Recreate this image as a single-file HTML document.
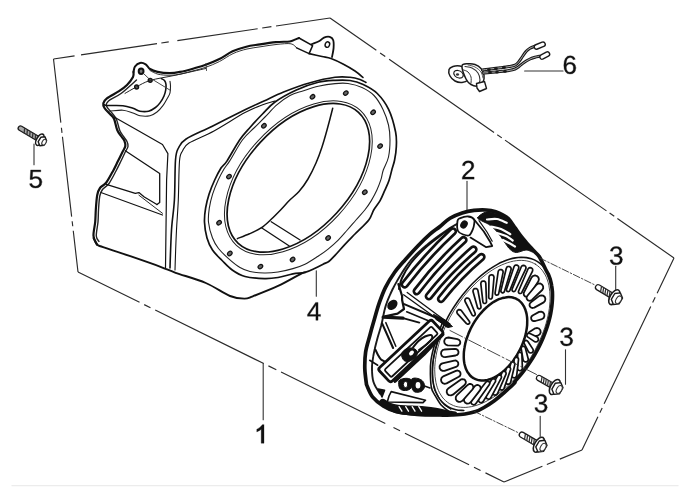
<!DOCTYPE html>
<html><head><meta charset="utf-8"><title>Recoil starter diagram</title>
<style>html,body{margin:0;padding:0;background:#fff;}body{width:700px;height:497px;overflow:hidden;font-family:"Liberation Sans",sans-serif;}svg{display:block;}</style>
</head><body>
<svg width="700" height="497" viewBox="0 0 700 497" stroke-linecap="round" stroke-linejoin="round"><path d="M53.5,59.0 L330.0,18.0" fill="none" stroke="#2a2a2a" stroke-width="1.15" stroke-dasharray="21.3 6.5 76.8 4.4 7.5 8.7 81.2 4.6 9.3 4.7 200" stroke-linecap="butt"/><path d="M330.0,18.0 L674.0,258.0" fill="none" stroke="#2a2a2a" stroke-width="1.15" stroke-dasharray="56.5 4.6 6.3 4.7 127.9 3.9 5.6 3.9 123.7 3.8 5.7 3.8 200" stroke-linecap="butt"/><path d="M674.0,258.0 L582.0,450.0" fill="none" stroke="#2a2a2a" stroke-width="1.15" stroke-dasharray="39 4.5 5.9 4.4 107.9 4.5 5.4 4.4 200" stroke-linecap="butt"/><path d="M582.0,450.0 L504.0,482.0" fill="none" stroke="#2a2a2a" stroke-width="1.15" stroke-dasharray="24 4.9 9.1 4.8 200" stroke-linecap="butt"/><path d="M78.0,272.0 L504.0,482.0" fill="none" stroke="#2a2a2a" stroke-width="1.15" stroke-dasharray="68.6 5.2 7 5.3 121 5.2 8.8 5.3 116.2 9.1 7.3 5.5 71.5 5.5 7.3 5.5 200" stroke-linecap="butt"/><path d="M53.5,59.0 L78.0,272.0" fill="none" stroke="#2a2a2a" stroke-width="1.15" stroke-dasharray="64.1 5.1 5.1 4 80.4 4.6 5.1 4.5 200" stroke-linecap="butt"/><path d="M11.5,485.7 L678.5,485.7" fill="none" stroke="#ececec" stroke-width="1.2" stroke-linecap="butt"/><path d="M133.5,72.0 C133.8,71.1 133.9,68.0 135.0,66.5 C136.1,65.0 138.2,63.3 140.0,62.9 C141.8,62.5 144.0,63.3 145.7,64.3 C147.4,65.3 148.0,67.7 150.0,69.0 C152.0,70.3 154.3,71.2 157.6,71.9 C160.9,72.6 165.9,73.1 169.6,73.1 C173.3,73.1 176.0,72.7 180.0,71.9 C184.0,71.1 189.5,69.6 193.7,68.4 C197.9,67.2 200.9,66.5 205.1,65.0 C209.3,63.5 214.3,61.6 218.9,59.3 C223.5,57.0 228.0,53.4 232.6,51.3 C237.2,49.2 241.7,47.9 246.3,46.7 C250.9,45.6 255.1,45.2 260.0,44.4 C264.9,43.6 271.1,42.6 276.0,42.1 C280.9,41.6 286.6,41.9 289.7,41.5 C292.8,41.1 292.8,40.5 294.3,39.9 C295.9,39.3 298.2,38.3 299.0,38.0" fill="none" stroke="#111" stroke-width="2.1" /><path d="M150.0,70.5 C151.3,71.1 154.7,73.4 158.0,74.2 C161.3,75.0 166.2,75.3 170.0,75.3 C173.8,75.3 177.0,74.8 181.0,74.0 C185.0,73.2 189.8,71.7 194.0,70.6 C198.2,69.5 201.8,68.7 206.0,67.2 C210.2,65.7 215.0,63.8 219.5,61.5 C224.0,59.2 228.4,55.7 233.0,53.6 C237.6,51.5 242.3,50.1 247.0,49.0 C251.7,47.9 256.0,47.5 261.0,46.7 C266.0,45.9 272.0,44.9 277.0,44.4 C282.0,43.9 287.7,43.2 291.0,43.8 C294.3,44.4 295.7,47.2 296.6,47.9" fill="none" stroke="#333" stroke-width="1.0" /><path d="M299.0,38.0 L312.6,45.6 L309.1,53.6 L296.6,47.9" fill="none" stroke="#111" stroke-width="1.5" /><path d="M311.4,44.4 C312.7,43.8 317.3,42.1 319.4,41.0 C321.5,39.9 322.3,38.3 324.0,37.6 C325.7,36.9 328.2,36.5 329.7,36.9 C331.2,37.3 332.5,38.1 333.1,39.9 C333.8,41.7 333.8,45.0 333.6,47.9 C333.4,50.8 332.3,55.5 332.0,57.0" fill="none" stroke="#111" stroke-width="1.8" /><ellipse cx="327.4" cy="44.6" rx="2.2" ry="2.8" transform="rotate(20 327.4 44.6)" fill="none" stroke="#111" stroke-width="1.4"/><path d="M309.1,53.6 C311.2,54.1 318.4,55.7 322.0,56.5 C325.6,57.3 327.5,57.2 331.0,58.5 C334.5,59.8 339.0,61.9 343.0,64.0 C347.0,66.1 351.7,68.8 355.0,71.0 C358.3,73.2 361.7,76.4 363.0,77.5" fill="none" stroke="#111" stroke-width="1.6" /><ellipse cx="141.1" cy="71.2" rx="2.4" ry="2.7" fill="#777" stroke="#111" stroke-width="2.0"/><circle cx="150.2" cy="80.3" r="1.9" fill="#777" stroke="#111" stroke-width="1.5"/><circle cx="136.6" cy="87" r="1.9" fill="#777" stroke="#111" stroke-width="1.5"/><path d="M133.5,72.0 C133.4,72.8 134.1,74.9 133.0,77.1 C131.9,79.3 129.3,82.7 127.0,85.0 C124.7,87.3 122.3,89.0 119.0,91.2 C115.7,93.4 109.5,96.4 106.9,98.4 C104.3,100.4 103.7,101.7 103.3,103.3 C102.9,104.9 103.4,106.2 104.5,108.0 C105.6,109.8 108.4,112.2 110.0,114.0 C111.6,115.8 112.9,116.3 114.1,119.0 C115.3,121.7 116.0,127.2 117.2,130.0 C118.4,132.8 119.8,134.2 121.0,136.0 C122.2,137.8 123.7,139.2 124.4,140.9 C125.1,142.6 125.6,144.5 125.3,146.3 C125.0,148.1 123.8,149.2 122.6,151.7 C121.4,154.1 119.5,158.0 118.0,161.0 C116.5,164.0 115.5,166.3 113.6,169.9 C111.6,173.5 108.6,179.5 106.3,182.5 C104.0,185.5 101.5,185.9 100.0,188.0 C98.5,190.1 97.9,191.5 97.2,195.2 C96.5,198.9 96.1,205.5 95.8,210.0 C95.5,214.5 95.6,217.7 95.2,222.0 C94.8,226.3 93.2,232.2 93.5,236.0 C93.8,239.8 96.4,243.1 97.0,244.5" fill="none" stroke="#111" stroke-width="2.2" /><path d="M136.5,80.0 C133.9,82.2 125.7,90.0 121.0,93.5 C116.3,97.0 110.9,98.9 108.5,101.0 C106.1,103.1 105.9,104.0 106.5,106.0 C107.1,108.0 110.3,110.8 112.0,113.0 C113.7,115.2 115.2,116.6 116.5,119.5 C117.8,122.4 118.6,127.7 119.8,130.5 C121.0,133.3 122.3,134.7 123.5,136.5 C124.7,138.3 126.2,139.8 127.0,141.5 C127.8,143.2 128.3,144.7 128.0,146.5 C127.7,148.3 126.2,149.9 125.0,152.5 C123.8,155.1 122.0,158.9 120.5,162.0 C119.0,165.1 117.9,167.4 116.0,171.0 C114.1,174.6 111.2,180.4 109.0,183.5 C106.8,186.6 104.0,187.4 102.5,189.5 C101.0,191.6 100.5,192.6 99.8,196.0 C99.1,199.4 98.8,205.7 98.5,210.0 C98.2,214.3 98.4,217.7 98.0,222.0 C97.6,226.3 96.1,232.8 96.3,236.0 C96.5,239.2 98.5,240.6 99.0,241.5" fill="none" stroke="#222" stroke-width="1.4" /><path d="M104.0,104.5 C104.5,104.7 103.9,105.3 107.1,105.5 C110.2,105.7 118.6,105.2 122.9,105.7 C127.2,106.2 130.2,107.4 133.0,108.3 C135.8,109.2 137.4,110.7 140.0,111.2 C142.6,111.7 146.0,111.8 148.6,111.2 C151.2,110.6 153.6,108.9 155.5,107.5 C157.4,106.1 158.6,104.8 160.0,102.9 C161.4,101.0 163.1,98.2 164.0,96.0 C164.9,93.8 165.4,91.9 165.7,90.0 C166.0,88.1 166.2,86.1 166.0,84.5 C165.8,82.9 165.3,81.5 164.5,80.5 C163.7,79.5 161.9,78.9 161.4,78.6" fill="none" stroke="#111" stroke-width="1.6" /><path d="M106.0,110.0 C106.4,110.2 105.8,111.2 108.6,111.2 C111.4,111.2 118.8,109.9 122.9,110.2 C127.0,110.5 130.2,112.1 133.0,113.0 C135.8,113.9 137.2,115.2 140.0,115.7 C142.8,116.2 147.2,116.3 150.0,115.7 C152.8,115.1 154.8,113.7 157.0,112.0 C159.2,110.3 161.2,108.0 162.9,105.7 C164.7,103.4 166.3,100.1 167.5,98.0 C168.7,95.9 169.5,94.9 170.0,92.9 C170.5,90.9 170.5,87.9 170.5,86.0 C170.5,84.1 170.1,82.2 170.0,81.4" fill="none" stroke="#222" stroke-width="1.1" /><path d="M125.0,93.4 C126.9,92.3 132.1,89.2 136.3,87.0 C140.5,84.8 143.6,82.5 150.0,80.5 C156.4,78.5 165.7,77.3 175.0,75.3 C184.3,73.3 200.7,69.6 205.8,68.5" fill="none" stroke="#222" stroke-width="1.0" /><path d="M151.6,78.9 L170.1,90.2" fill="none" stroke="#333" stroke-width="0.9" /><path d="M206.0,63.5 L206.5,70.5" fill="none" stroke="#333" stroke-width="0.9" /><path d="M114.1,117.0 L137.1,130.0 L162.5,144.5 L167.9,153.6 L166.6,180.0 L165.5,268.0" fill="none" stroke="#111" stroke-width="1.2" /><path d="M125.3,150.8 L159.7,173.5 L159.7,202.5 L157.0,204.5" fill="none" stroke="#111" stroke-width="1.3" /><path d="M106.3,184.3 L135.3,193.4 L138.9,192.6 L144.3,197.0 L157.0,204.5" fill="none" stroke="#111" stroke-width="1.3" /><path d="M100.9,192.5 L162.5,215.1" fill="none" stroke="#111" stroke-width="1.1" /><path d="M138.9,195.2 L162.5,213.3" fill="none" stroke="#111" stroke-width="0.9" /><path d="M170.0,268.0 C170.2,261.7 170.8,241.3 171.5,230.0 C172.2,218.7 173.7,211.7 174.4,200.0 C175.1,188.3 174.8,168.7 175.5,160.0 C176.2,151.3 176.7,151.5 178.5,148.0 C180.3,144.5 180.5,142.6 186.1,139.0 C191.7,135.4 202.5,131.1 212.3,126.2 C222.1,121.3 236.4,114.0 245.0,109.8 C253.6,105.6 257.6,104.0 264.0,101.0 C270.4,98.0 276.1,94.9 283.6,91.9 C291.2,88.9 300.7,85.3 309.3,82.9 C317.9,80.5 328.2,78.2 335.0,77.3 C341.8,76.4 345.8,76.9 350.0,77.3 C354.2,77.7 357.3,78.6 360.0,79.5 C362.7,80.4 365.0,82.0 366.0,82.5" fill="none" stroke="#111" stroke-width="1.6" /><path d="M175.0,270.0 C175.2,263.3 175.9,241.7 176.5,230.0 C177.1,218.3 177.8,211.5 178.3,200.0 C178.8,188.5 178.8,169.2 179.5,161.0 C180.2,152.8 180.9,154.0 182.5,151.0 C184.1,148.0 183.8,146.3 189.0,143.0 C194.2,139.7 204.7,136.1 214.0,131.0 C223.3,125.9 237.0,116.9 245.0,112.6 C253.0,108.3 257.0,106.9 262.0,105.0 C267.0,103.1 272.8,101.7 275.0,101.0" fill="none" stroke="#111" stroke-width="1.1" /><path d="M275.0,102.0 C280.6,98.0 289.2,93.3 296.4,90.0 C303.6,86.7 311.8,83.9 318.2,82.3 C324.6,80.7 329.7,80.6 335.0,80.3 C340.3,80.0 345.3,79.8 350.0,80.5 C354.7,81.2 358.6,82.3 363.2,84.5 C367.8,86.7 373.1,89.3 377.3,93.5 C381.5,97.7 385.6,103.0 388.6,109.4 C391.7,115.8 394.3,125.7 395.6,132.0 C396.9,138.3 396.5,142.3 396.3,147.0 C396.1,151.7 395.4,156.2 394.6,160.0 C393.9,163.8 392.7,166.6 391.8,170.0 C390.9,173.4 390.1,177.2 389.0,180.5 C387.9,183.8 386.4,186.8 384.9,190.1 C383.4,193.4 382.0,197.3 380.1,200.6 C378.2,203.9 375.6,206.8 373.7,210.0 C371.8,213.2 371.9,215.9 368.8,219.9 C365.7,223.9 358.9,230.0 355.0,234.0 C351.1,238.0 348.5,240.6 345.2,244.1 C341.9,247.6 337.9,252.3 335.2,255.2 C332.5,258.1 331.1,259.7 329.1,261.2 C327.1,262.7 325.4,263.0 323.1,264.2 C320.8,265.4 318.1,266.8 315.1,268.2 C312.1,269.6 308.7,271.4 305.0,272.3 C301.3,273.2 297.4,272.9 292.9,273.8 C288.4,274.7 282.8,276.7 278.0,277.5 C273.2,278.3 269.8,278.8 264.3,278.6 C258.8,278.4 250.3,277.9 245.0,276.5 C239.7,275.1 236.0,272.7 232.2,270.0 C228.4,267.3 225.4,263.8 222.1,260.5 C218.8,257.2 215.0,253.8 212.5,250.0 C210.0,246.2 208.3,242.6 207.0,238.0 C205.7,233.4 204.7,227.3 204.5,222.3 C204.3,217.3 204.8,212.9 205.6,208.2 C206.4,203.5 207.6,198.8 209.1,194.1 C210.6,189.4 212.7,184.3 214.7,180.0 C216.7,175.7 219.0,171.2 221.0,168.0 C223.0,164.8 223.8,165.8 226.9,161.1 C230.0,156.4 235.8,145.6 239.6,140.0 C243.4,134.4 246.2,131.8 250.0,127.5 C253.8,123.2 258.3,118.2 262.5,114.0 C266.7,109.8 269.4,106.0 275.0,102.0Z" fill="none" stroke="#111" stroke-width="1.7" /><path d="M290.0,95.5 C294.3,93.2 298.1,92.5 302.8,91.0 C307.5,89.5 312.8,87.5 318.2,86.3 C323.6,85.1 330.0,84.1 335.0,83.6 C340.0,83.1 343.5,82.8 348.0,83.5 C352.5,84.2 357.7,85.5 362.0,87.5 C366.3,89.5 370.5,91.8 374.0,95.5 C377.5,99.2 380.6,104.5 383.0,109.4 C385.4,114.3 387.3,119.9 388.5,125.0 C389.7,130.1 390.0,134.7 390.0,140.0 C390.0,145.3 389.6,152.0 388.5,157.0 C387.4,162.0 384.6,166.2 383.3,170.0 C382.0,173.8 382.0,176.3 380.9,179.7 C379.8,183.0 378.5,186.6 376.9,190.1 C375.3,193.6 373.3,197.3 371.3,200.6 C369.3,203.9 367.4,206.8 364.8,210.0 C362.2,213.2 358.9,216.7 356.0,220.0 C353.1,223.3 350.3,226.7 347.3,230.0 C344.3,233.3 341.4,236.9 338.2,240.1 C335.0,243.3 331.5,246.4 328.1,249.1 C324.8,251.8 322.0,253.7 318.1,256.2 C314.2,258.7 309.2,262.1 305.0,264.2 C300.8,266.3 297.4,267.3 292.9,268.6 C288.4,269.9 282.8,271.3 278.0,272.0 C273.2,272.7 269.0,273.1 264.3,273.0 C259.6,272.9 254.1,272.4 250.0,271.5 C245.9,270.6 243.6,269.6 240.0,267.5 C236.4,265.4 232.1,261.8 228.5,258.6 C224.9,255.4 221.2,251.9 218.5,248.5 C215.8,245.1 214.2,242.4 212.5,238.0 C210.8,233.6 209.0,227.3 208.5,222.3 C208.0,217.3 208.6,212.9 209.3,208.2 C210.0,203.5 211.1,198.8 212.6,194.1 C214.1,189.4 216.3,184.2 218.2,180.0 C220.1,175.8 222.1,172.2 224.0,169.0 C225.9,165.8 226.5,165.9 229.6,161.1 C232.7,156.3 238.3,145.5 242.4,140.0 C246.5,134.5 250.2,131.8 254.0,128.0 C257.8,124.2 261.1,120.9 265.0,117.0 C268.9,113.1 272.9,108.3 277.1,104.7 C281.3,101.1 285.7,97.8 290.0,95.5Z" fill="none" stroke="#222" stroke-width="1.1" /><path d="M93.5,238.0 C94.1,239.1 95.4,243.0 97.0,244.5 C98.6,246.0 97.5,245.2 103.1,247.2 C108.6,249.1 120.7,252.9 130.3,256.2 C139.9,259.5 152.9,264.0 160.5,266.8 C168.1,269.6 168.0,270.1 175.6,272.8 C183.2,275.5 196.7,279.1 205.8,283.0 C214.9,286.9 223.6,293.4 230.0,296.0 C236.4,298.6 240.5,298.6 244.3,298.6 C248.1,298.7 247.2,298.5 252.9,296.3 C258.6,294.1 270.8,289.4 278.6,285.7 C286.5,282.0 295.6,276.5 300.0,274.3 C304.4,272.1 304.2,272.6 305.0,272.3" fill="none" stroke="#111" stroke-width="1.9" /><ellipse cx="298.35" cy="177.8" rx="88.9" ry="52.0" transform="rotate(-47.43 298.35 177.8)" fill="none" stroke="#111" stroke-width="1.7"/><ellipse cx="298.35" cy="177.8" rx="91.6" ry="54.7" transform="rotate(-47.43 298.35 177.8)" fill="none" stroke="#222" stroke-width="1.0"/><path d="M332.7,108.2 C331.8,111.8 328.8,123.5 327.0,130.0 C325.2,136.5 323.8,141.5 322.0,147.0 C320.2,152.5 318.3,157.7 316.0,163.0 C313.7,168.3 310.8,174.2 308.0,179.0 C305.2,183.8 302.1,187.9 299.0,191.5 C295.9,195.1 292.3,197.5 289.3,200.5 C286.3,203.5 283.8,206.6 280.8,209.7 C277.8,212.8 274.4,216.3 271.2,219.3 C268.0,222.3 265.1,225.3 261.5,227.7 C257.9,230.1 253.5,232.0 249.5,233.8 C245.5,235.6 239.4,237.8 237.4,238.6" fill="none" stroke="#111" stroke-width="1.5" /><path d="M261.5,227.7 L289.3,246.0" fill="none" stroke="#111" stroke-width="1.3" /><path d="M271.2,221.7 L300.1,240.0" fill="none" stroke="#111" stroke-width="1.3" /><ellipse cx="263.9" cy="125.8" rx="2.5" ry="1.9" transform="rotate(-40 263.9 125.8)" fill="#666" stroke="#111" stroke-width="1.2"/><ellipse cx="312.5" cy="96.8" rx="2.5" ry="1.9" transform="rotate(-40 312.5 96.8)" fill="#666" stroke="#111" stroke-width="1.2"/><ellipse cx="345.8" cy="93.1" rx="2.5" ry="1.9" transform="rotate(-40 345.8 93.1)" fill="#666" stroke="#111" stroke-width="1.2"/><ellipse cx="373.1" cy="112.3" rx="2.5" ry="1.9" transform="rotate(-40 373.1 112.3)" fill="#666" stroke="#111" stroke-width="1.2"/><ellipse cx="380.1" cy="146.1" rx="2.5" ry="1.9" transform="rotate(-40 380.1 146.1)" fill="#666" stroke="#111" stroke-width="1.2"/><ellipse cx="364.8" cy="192.2" rx="2.5" ry="1.9" transform="rotate(-40 364.8 192.2)" fill="#666" stroke="#111" stroke-width="1.2"/><ellipse cx="328.1" cy="238.0" rx="2.5" ry="1.9" transform="rotate(-40 328.1 238.0)" fill="#666" stroke="#111" stroke-width="1.2"/><ellipse cx="292.6" cy="259.5" rx="2.5" ry="1.9" transform="rotate(-40 292.6 259.5)" fill="#666" stroke="#111" stroke-width="1.2"/><ellipse cx="260.4" cy="266.6" rx="2.5" ry="1.9" transform="rotate(-40 260.4 266.6)" fill="#666" stroke="#111" stroke-width="1.2"/><ellipse cx="229.8" cy="253.5" rx="2.5" ry="1.9" transform="rotate(-40 229.8 253.5)" fill="#666" stroke="#111" stroke-width="1.2"/><ellipse cx="219.1" cy="222.7" rx="2.5" ry="1.9" transform="rotate(-40 219.1 222.7)" fill="#666" stroke="#111" stroke-width="1.2"/><ellipse cx="229.0" cy="176.6" rx="2.5" ry="1.9" transform="rotate(-40 229.0 176.6)" fill="#666" stroke="#111" stroke-width="1.2"/><path d="M143.5,73.5 L150.0,79.7" fill="none" stroke="#333" stroke-width="0.9" /><path d="M366.5,384.5 C366.2,381.8 364.9,373.8 364.8,368.4 C364.7,363.0 364.8,357.7 365.6,352.3 C366.4,346.9 368.2,341.6 369.7,336.1 C371.1,330.6 372.7,324.9 374.3,319.5 C375.9,314.1 377.2,308.8 379.1,303.4 C381.0,298.0 382.9,292.4 385.5,287.3 C388.1,282.2 391.2,277.1 394.5,272.5 C397.8,267.9 401.0,264.5 405.0,260.0 C409.0,255.5 414.1,249.8 418.3,245.5 C422.5,241.2 426.4,237.4 430.0,234.2 C433.6,231.0 436.7,229.2 440.0,226.5 C443.3,223.8 446.3,220.6 450.0,218.3 C453.7,216.1 458.1,214.3 462.1,213.0 C466.1,211.7 470.1,210.9 474.1,210.4 C478.1,209.9 482.6,209.8 486.2,210.0 C489.8,210.2 493.0,210.9 495.8,211.8 C498.6,212.7 500.9,213.9 503.1,215.2 C505.3,216.5 507.1,217.4 509.1,219.5 C511.1,221.6 513.1,225.1 515.1,227.9 C517.1,230.7 519.2,233.8 521.2,236.4 C523.2,239.0 525.2,241.2 527.2,243.6 C529.2,245.9 531.5,248.3 533.5,250.5 C535.5,252.7 537.5,253.8 539.5,257.0 C541.5,260.2 544.2,266.7 545.7,269.5 C547.1,272.4 547.5,272.6 548.3,274.2 C549.0,275.9 549.7,277.7 550.3,279.6 C550.8,281.5 551.3,283.4 551.6,285.5 C552.0,287.6 552.2,289.8 552.4,292.0 C552.5,294.2 552.5,296.5 552.4,298.9 C552.3,301.3 552.1,303.7 551.8,306.2 C551.5,308.7 551.1,311.3 550.6,313.8 C550.1,316.4 549.4,319.1 548.7,321.7 C548.0,324.3 547.1,327.0 546.2,329.7 C545.3,332.3 544.2,335.0 543.1,337.7 C542.0,340.3 540.8,343.0 539.5,345.6 C538.2,348.3 536.8,350.9 535.3,353.5 C533.8,356.1 532.3,358.6 530.7,361.1 C529.1,363.6 527.4,366.1 525.6,368.5 C523.9,370.8 522.1,373.2 520.2,375.4 C518.3,377.7 515.4,380.7 514.5,381.9 C513.5,383.2 516.2,381.2 514.5,383.0 C512.8,384.8 507.6,389.5 504.2,392.5 C500.8,395.5 497.4,398.5 494.0,401.0 C490.6,403.5 487.1,405.7 484.0,407.5 C480.9,409.3 478.9,410.5 475.7,411.6 C472.5,412.7 468.9,413.4 465.0,414.0 C461.1,414.6 456.2,414.8 452.0,415.0 C447.8,415.2 445.8,415.1 440.0,415.0 C434.2,414.9 424.4,414.9 417.1,414.3 C409.8,413.7 401.8,412.9 396.2,411.5 C390.6,410.1 387.6,408.6 383.6,406.1 C379.7,403.7 375.4,400.4 372.5,396.8 C369.6,393.2 367.5,386.6 366.5,384.5" fill="none" stroke="#111" stroke-width="3.7" /><path d="M379.9,393.4 C378.8,391.5 374.8,386.2 373.5,382.0 C372.2,377.8 372.0,372.5 372.0,368.0 C372.0,363.5 372.7,359.7 373.5,355.0 C374.3,350.3 375.7,345.1 377.0,340.0 C378.3,334.9 380.1,329.9 381.5,324.3 C382.9,318.7 383.8,312.2 385.5,306.6 C387.2,301.0 389.6,295.6 392.0,290.5 C394.4,285.4 397.1,280.9 400.0,276.1 C402.9,271.3 406.3,265.9 409.7,261.6 C413.1,257.3 416.6,254.1 420.5,250.5 C424.4,246.9 428.6,243.4 433.0,240.0 C437.4,236.6 442.5,232.9 447.0,230.0 C451.5,227.1 455.8,224.5 460.0,222.5 C464.2,220.5 470.0,218.8 472.0,218.0" fill="none" stroke="#1a1a1a" stroke-width="1.9" stroke-dasharray="7 0.9"/><path d="M383.0,399.5 C384.7,399.6 387.5,402.5 390.0,403.5 C392.5,404.5 394.7,405.1 398.0,405.5 C401.3,405.9 405.7,405.9 410.0,406.2 C414.3,406.4 419.7,406.6 424.0,407.0 C428.3,407.4 432.2,407.8 436.0,408.5 C439.8,409.2 443.7,410.2 447.0,411.0 C450.3,411.8 457.2,412.2 456.0,413.0 C454.8,413.8 446.5,415.2 440.0,415.5 C433.5,415.8 423.8,415.3 417.1,415.0 C410.4,414.7 404.9,414.5 400.0,413.5 C395.1,412.5 391.3,410.8 388.0,409.0 C384.7,407.2 380.8,404.6 380.0,403.0 C379.2,401.4 381.3,399.4 383.0,399.5Z" fill="#111" stroke="#111" stroke-width="1.5" /><path d="M399.1,406.6 L401.9,411.2" fill="none" stroke="#fff" stroke-width="1.3" /><path d="M405.7,406.6 L408.5,411.2" fill="none" stroke="#fff" stroke-width="1.3" /><path d="M412.2,406.6 L415.0,411.2" fill="none" stroke="#fff" stroke-width="1.3" /><path d="M418.8,406.6 L421.6,411.2" fill="none" stroke="#fff" stroke-width="1.3" /><path d="M391.2,391.6 L425.5,400.2 L423.0,402.6 L387.3,402.0 L389.0,396.0Z" fill="#fff" stroke="#111" stroke-width="1.6" /><path d="M378.1,389.0 L384.6,390.3 L382.0,397.0Z" fill="#111" stroke="#111" stroke-width="1.5" /><path d="M463.8,410.5 C462.9,410.4 460.2,410.4 458.4,410.2 C456.7,410.0 455.0,409.6 453.4,409.1 C451.8,408.6 450.3,408.0 448.9,407.2 C447.4,406.4 446.1,405.5 444.8,404.5 C443.5,403.5 442.3,402.3 441.2,401.0 C440.1,399.7 439.1,398.3 438.2,396.8 C437.3,395.3 436.5,393.6 435.8,391.9 C435.1,390.1 434.5,388.3 434.0,386.3 C433.5,384.4 433.1,382.3 432.8,380.2 C432.6,378.1 432.4,375.8 432.3,373.5 C432.3,371.3 432.3,368.9 432.5,366.5 C432.7,364.1 432.9,361.6 433.3,359.1 C433.7,356.5 434.2,354.0 434.8,351.4 C435.4,348.8 436.1,346.1 436.9,343.5 C437.7,340.8 438.6,338.1 439.6,335.5 C440.6,332.8 441.7,330.1 442.8,327.5 C444.0,324.8 445.3,322.1 446.7,319.5 C448.0,316.9 449.5,314.3 451.0,311.7 C452.5,309.2 454.1,306.6 455.8,304.2 C457.4,301.7 459.2,299.3 461.0,297.0 C462.7,294.6 464.6,292.4 466.5,290.2 C468.4,288.0 470.3,285.8 472.3,283.8 C474.3,281.8 476.3,279.9 478.3,278.0 C480.3,276.2 482.4,274.5 484.5,272.9 C486.6,271.3 488.7,269.7 490.8,268.4 C492.9,267.0 495.0,265.7 497.0,264.6 C499.1,263.4 501.2,262.4 503.3,261.6 C505.3,260.7 507.4,259.9 509.4,259.3 C511.4,258.7 513.4,258.2 515.3,257.9 C517.3,257.6 519.2,257.4 521.0,257.3 C522.8,257.3 524.6,257.4 526.4,257.6 C528.1,257.8 529.8,258.2 531.4,258.7 C533.0,259.2 534.5,259.8 535.9,260.6 C537.4,261.4 538.7,262.3 540.0,263.3 C541.3,264.3 543.0,266.2 543.6,266.8" fill="none" stroke="#111" stroke-width="1.6" /><path d="M535.6,264.3 C536.9,265.1 538.1,266.1 539.3,267.2 C540.5,268.2 541.6,269.4 542.6,270.8 C543.6,272.1 544.5,273.5 545.3,275.0 C546.1,276.6 546.8,278.2 547.4,280.0 C548.0,281.7 548.5,283.6 548.9,285.5 C549.3,287.4 549.6,289.4 549.8,291.5 C550.0,293.6 550.1,295.8 550.1,298.1 C550.1,300.3 549.9,302.6 549.7,305.0 C549.5,307.3 549.2,309.7 548.7,312.2 C548.3,314.6 547.8,317.1 547.1,319.6 C546.5,322.2 545.7,324.7 544.9,327.3 C544.1,329.8 543.1,332.4 542.1,335.0 C541.1,337.5 540.0,340.1 538.8,342.6 C537.6,345.2 536.3,347.7 535.0,350.2 C533.6,352.7 532.2,355.2 530.7,357.6 C529.2,360.1 527.6,362.4 525.9,364.8 C524.3,367.1 522.6,369.4 520.9,371.6 C519.1,373.8 517.3,375.9 515.5,378.0 C513.6,380.0 511.7,382.0 509.8,383.9 C507.9,385.8 505.9,387.6 504.0,389.2 C502.0,390.9 500.0,392.5 498.0,394.0 C496.0,395.5 494.0,396.9 492.0,398.1 C490.0,399.3 487.9,400.5 485.9,401.5 C483.9,402.5 481.9,403.4 480.0,404.1 C478.0,404.9 476.1,405.5 474.2,406.0 C472.3,406.5 470.4,406.9 468.5,407.1 C466.7,407.4 464.9,407.5 463.2,407.4 C461.5,407.4 459.8,407.2 458.1,406.9 C456.5,406.6 455.0,406.2 453.5,405.6 C452.0,405.0 450.6,404.3 449.2,403.5 C447.9,402.7 446.7,401.7 445.5,400.6 C444.3,399.6 443.2,398.4 442.2,397.0 C441.2,395.7 440.3,394.3 439.5,392.8 C438.7,391.2 438.0,389.6 437.4,387.8 C436.8,386.1 436.3,384.2 435.9,382.3 C435.5,380.4 435.2,378.4 435.0,376.3 C434.8,374.2 434.7,372.0 434.7,369.7 C434.7,367.5 434.9,365.2 435.1,362.8 C435.3,360.5 435.6,358.1 436.1,355.6 C436.5,353.2 437.0,350.7 437.7,348.2 C438.3,345.6 439.1,343.1 439.9,340.5 C440.7,338.0 441.7,335.4 442.7,332.8 C443.7,330.3 444.8,327.7 446.0,325.2 C447.2,322.6 448.5,320.1 449.8,317.6 C451.2,315.1 452.6,312.6 454.1,310.2 C455.6,307.7 457.2,305.4 458.9,303.0 C460.5,300.7 462.2,298.4 463.9,296.2 C465.7,294.0 467.5,291.9 469.3,289.8 C471.2,287.8 473.1,285.8 475.0,283.9 C476.9,282.0 478.9,280.2 480.8,278.6 C482.8,276.9 484.8,275.3 486.8,273.8 C488.8,272.3 490.8,270.9 492.8,269.7 C494.8,268.5 496.9,267.3 498.9,266.3 C500.9,265.3 502.9,264.4 504.8,263.7 C506.8,262.9 508.7,262.3 510.6,261.8 C512.5,261.3 514.4,260.9 516.3,260.7 C518.1,260.4 519.9,260.3 521.6,260.4 C523.3,260.4 525.0,260.6 526.7,260.9 C528.3,261.2 529.8,261.6 531.3,262.2 C532.8,262.8 534.2,263.5 535.6,264.3Z" fill="none" stroke="#333" stroke-width="0.9" /><path d="M516.8,299.1 C517.6,299.5 518.4,300.0 519.2,300.6 C519.9,301.2 520.6,301.8 521.2,302.5 C521.9,303.3 522.5,304.1 523.0,304.9 C523.6,305.7 524.1,306.7 524.5,307.6 C525.0,308.6 525.4,309.6 525.7,310.7 C526.1,311.8 526.3,312.9 526.6,314.1 C526.8,315.2 527.0,316.5 527.1,317.7 C527.2,319.0 527.3,320.3 527.2,321.6 C527.2,322.9 527.2,324.3 527.1,325.6 C526.9,327.0 526.8,328.4 526.5,329.9 C526.3,331.3 526.0,332.7 525.7,334.2 C525.3,335.6 524.9,337.1 524.5,338.5 C524.0,340.0 523.5,341.4 522.9,342.9 C522.4,344.3 521.8,345.8 521.1,347.2 C520.5,348.6 519.8,350.0 519.0,351.4 C518.3,352.8 517.5,354.2 516.7,355.5 C515.8,356.8 515.0,358.1 514.1,359.4 C513.2,360.7 512.3,361.9 511.3,363.1 C510.3,364.3 509.3,365.4 508.3,366.5 C507.3,367.6 506.3,368.6 505.2,369.6 C504.2,370.6 503.1,371.5 502.0,372.4 C500.9,373.2 499.8,374.0 498.7,374.8 C497.6,375.5 496.5,376.2 495.4,376.8 C494.3,377.4 493.2,377.9 492.1,378.4 C491.0,378.8 489.9,379.2 488.8,379.5 C487.7,379.8 486.7,380.1 485.6,380.2 C484.6,380.4 483.5,380.5 482.5,380.5 C481.5,380.5 480.5,380.4 479.5,380.3 C478.6,380.2 477.7,379.9 476.8,379.6 C475.9,379.4 475.0,379.0 474.2,378.5 C473.4,378.1 472.6,377.6 471.8,377.0 C471.1,376.4 470.4,375.8 469.8,375.1 C469.1,374.3 468.5,373.5 468.0,372.7 C467.4,371.9 466.9,370.9 466.5,370.0 C466.0,369.0 465.6,368.0 465.3,366.9 C464.9,365.8 464.7,364.7 464.4,363.5 C464.2,362.4 464.0,361.1 463.9,359.9 C463.8,358.6 463.7,357.3 463.8,356.0 C463.8,354.7 463.8,353.3 463.9,352.0 C464.1,350.6 464.2,349.2 464.5,347.7 C464.7,346.3 465.0,344.9 465.3,343.4 C465.7,342.0 466.1,340.5 466.5,339.1 C467.0,337.6 467.5,336.2 468.1,334.7 C468.6,333.3 469.2,331.8 469.9,330.4 C470.5,329.0 471.2,327.6 472.0,326.2 C472.7,324.8 473.5,323.4 474.3,322.1 C475.2,320.8 476.0,319.5 476.9,318.2 C477.8,316.9 478.7,315.7 479.7,314.5 C480.7,313.3 481.7,312.2 482.7,311.1 C483.7,310.0 484.7,309.0 485.8,308.0 C486.8,307.0 487.9,306.1 489.0,305.2 C490.1,304.4 491.2,303.6 492.3,302.8 C493.4,302.1 494.5,301.4 495.6,300.8 C496.7,300.2 497.8,299.7 498.9,299.2 C500.0,298.8 501.1,298.4 502.2,298.1 C503.3,297.8 504.3,297.5 505.4,297.4 C506.4,297.2 507.5,297.1 508.5,297.1 C509.5,297.1 510.5,297.2 511.5,297.3 C512.4,297.4 513.3,297.7 514.2,298.0 C515.1,298.2 516.0,298.6 516.8,299.1Z" fill="none" stroke="#111" stroke-width="2.5" /><path d="M469.3,321.3 L469.7,322.2 L469.6,323.1 L469.1,323.8 L468.2,324.2 L467.3,324.1 L466.5,323.6 L457.4,313.7 L456.9,312.5 L457.0,311.2 L457.7,310.2 L458.9,309.6 L460.2,309.8 L461.3,310.5Z" fill="#fff" stroke="#111" stroke-width="1.7" /><path d="M475.1,313.2 L475.3,314.1 L475.0,315.0 L474.3,315.6 L473.3,315.8 L472.5,315.4 L471.9,314.7 L465.1,301.5 L464.8,300.3 L465.3,299.1 L466.3,298.2 L467.6,298.0 L468.8,298.5 L469.6,299.5Z" fill="#fff" stroke="#111" stroke-width="1.7" /><path d="M481.0,306.7 L480.9,307.6 L480.5,308.4 L479.6,308.8 L478.7,308.8 L477.9,308.3 L477.5,307.5 L473.0,291.5 L473.1,290.2 L473.8,289.1 L474.9,288.5 L476.2,288.6 L477.3,289.2 L477.9,290.4Z" fill="#fff" stroke="#111" stroke-width="1.7" /><path d="M486.5,301.6 L486.4,302.5 L485.7,303.2 L484.9,303.5 L484.0,303.3 L483.2,302.7 L482.9,301.8 L480.8,283.6 L481.1,282.4 L481.9,281.4 L483.2,281.0 L484.4,281.2 L485.4,282.0 L485.8,283.3Z" fill="#fff" stroke="#111" stroke-width="1.7" /><path d="M492.3,297.3 L492.0,298.2 L491.3,298.8 L490.4,299.0 L489.5,298.7 L488.8,298.0 L488.7,297.1 L489.0,277.1 L489.4,275.8 L490.4,275.0 L491.6,274.7 L492.9,275.1 L493.7,276.1 L494.0,277.3Z" fill="#fff" stroke="#111" stroke-width="1.7" /><path d="M498.7,293.7 L498.3,294.5 L497.5,295.0 L496.6,295.1 L495.7,294.7 L495.2,294.0 L495.1,293.0 L498.2,271.5 L498.7,270.4 L499.8,269.6 L501.1,269.5 L502.2,270.1 L503.0,271.1 L503.1,272.4Z" fill="#fff" stroke="#111" stroke-width="1.7" /><path d="M504.4,291.5 L503.9,292.3 L503.1,292.8 L502.2,292.8 L501.4,292.3 L500.9,291.5 L500.9,290.5 L506.3,268.3 L506.9,267.1 L508.1,266.5 L509.3,266.5 L510.5,267.2 L511.1,268.3 L511.1,269.6Z" fill="#fff" stroke="#111" stroke-width="1.7" /><path d="M509.9,290.4 L509.3,291.2 L508.5,291.6 L507.5,291.5 L506.8,291.0 L506.4,290.1 L506.5,289.2 L514.0,266.7 L514.8,265.6 L515.9,265.1 L517.2,265.2 L518.3,265.9 L518.8,267.1 L518.7,268.4Z" fill="#fff" stroke="#111" stroke-width="1.7" /><path d="M515.4,290.5 L514.8,291.2 L514.0,291.6 L513.0,291.4 L512.3,290.8 L512.0,290.0 L512.1,289.1 L521.3,266.8 L522.1,265.8 L523.3,265.4 L524.6,265.6 L525.6,266.4 L526.0,267.6 L525.8,268.9Z" fill="#fff" stroke="#111" stroke-width="1.7" /><path d="M521.8,292.5 L521.2,293.2 L520.4,293.5 L519.4,293.4 L518.7,292.8 L518.4,291.9 L518.6,291.0 L528.0,269.0 L528.8,268.0 L530.0,267.6 L531.3,267.8 L532.3,268.6 L532.7,269.8 L532.5,271.1Z" fill="#fff" stroke="#111" stroke-width="1.7" /><path d="M529.4,295.3 L528.3,296.5 L526.8,296.9 L525.2,296.5 L524.1,295.4 L523.6,293.8 L524.0,292.3 L531.6,277.4 L533.0,276.0 L535.0,275.4 L536.9,276.0 L538.4,277.4 L538.9,279.3 L538.4,281.3Z" fill="#fff" stroke="#111" stroke-width="1.8" /><path d="M531.9,299.9 L530.6,300.7 L529.0,300.8 L527.6,300.1 L526.7,298.7 L526.6,297.1 L527.4,295.7 L536.5,284.7 L538.2,283.6 L540.3,283.5 L542.0,284.5 L543.1,286.2 L543.2,288.2 L542.2,290.0Z" fill="#fff" stroke="#111" stroke-width="1.8" /><path d="M534.3,307.6 L532.7,308.0 L531.2,307.7 L530.0,306.6 L529.5,305.1 L529.8,303.5 L530.9,302.3 L539.4,295.9 L541.3,295.3 L543.3,295.7 L544.8,297.0 L545.4,298.9 L545.0,300.9 L543.7,302.4Z" fill="#fff" stroke="#111" stroke-width="1.8" /><path d="M535.3,321.0 L533.7,321.2 L532.2,320.6 L531.3,319.3 L531.1,317.7 L531.7,316.2 L533.0,315.2 L539.1,311.9 L541.1,311.6 L543.0,312.4 L544.2,314.0 L544.4,316.0 L543.7,317.9 L542.0,319.1Z" fill="#fff" stroke="#111" stroke-width="1.8" /><path d="M532.7,337.0 L531.1,337.3 L529.6,336.7 L528.6,335.4 L528.3,333.9 L528.9,332.4 L530.2,331.4 L535.2,328.3 L537.2,328.0 L539.1,328.7 L540.4,330.3 L540.7,332.3 L539.9,334.1 L538.3,335.4Z" fill="#fff" stroke="#111" stroke-width="1.8" /><path d="M527.9,337.1 L527.1,336.3 L526.9,335.3 L527.2,334.2 L527.9,333.5 L529.0,333.2 L530.0,333.5 L537.2,337.1 L538.1,338.1 L538.4,339.4 L538.1,340.7 L537.1,341.6 L535.8,342.0 L534.5,341.6Z" fill="#fff" stroke="#111" stroke-width="1.7" /><path d="M524.3,343.6 L524.0,342.5 L524.3,341.5 L525.1,340.7 L526.1,340.4 L527.2,340.7 L527.9,341.5 L532.9,349.1 L533.3,350.4 L532.9,351.7 L532.0,352.7 L530.7,353.0 L529.4,352.7 L528.4,351.7Z" fill="#fff" stroke="#111" stroke-width="1.7" /><path d="M521.2,348.7 L521.2,347.7 L521.8,346.7 L522.8,346.2 L523.9,346.3 L524.8,346.9 L525.3,347.8 L528.2,358.8 L528.2,360.2 L527.4,361.3 L526.2,361.9 L524.9,361.9 L523.8,361.1 L523.1,359.9Z" fill="#fff" stroke="#111" stroke-width="1.7" /><path d="M517.7,354.4 L518.0,353.3 L518.7,352.6 L519.8,352.3 L520.8,352.5 L521.6,353.3 L521.9,354.4 L522.4,368.1 L522.1,369.4 L521.1,370.3 L519.8,370.7 L518.5,370.3 L517.6,369.4 L517.2,368.1Z" fill="#fff" stroke="#111" stroke-width="1.7" /><path d="M514.3,359.1 L514.8,358.1 L515.6,357.5 L516.7,357.3 L517.7,357.8 L518.4,358.6 L518.5,359.7 L516.7,375.6 L516.2,376.8 L515.1,377.6 L513.8,377.8 L512.5,377.2 L511.7,376.2 L511.6,374.8Z" fill="#fff" stroke="#111" stroke-width="1.7" /><path d="M510.8,363.6 L511.3,362.6 L512.3,362.1 L513.4,362.1 L514.3,362.6 L514.8,363.6 L514.8,364.7 L510.6,382.4 L509.9,383.5 L508.8,384.2 L507.4,384.2 L506.2,383.5 L505.6,382.4 L505.6,381.0Z" fill="#fff" stroke="#111" stroke-width="1.7" /><path d="M506.6,368.3 L507.2,367.4 L508.2,366.9 L509.3,367.0 L510.2,367.7 L510.6,368.7 L510.5,369.7 L504.1,388.4 L503.3,389.5 L502.1,390.1 L500.8,389.9 L499.7,389.2 L499.1,387.9 L499.3,386.6Z" fill="#fff" stroke="#111" stroke-width="1.7" /><path d="M502.1,372.5 L502.8,371.6 L503.9,371.3 L504.9,371.5 L505.8,372.2 L506.1,373.2 L506.0,374.2 L497.5,393.6 L496.6,394.6 L495.4,395.1 L494.0,394.9 L493.0,394.0 L492.5,392.7 L492.8,391.4Z" fill="#fff" stroke="#111" stroke-width="1.7" /><path d="M497.5,376.1 L498.3,375.3 L499.4,375.0 L500.4,375.2 L501.2,376.0 L501.5,377.0 L501.2,378.1 L490.8,397.8 L489.9,398.8 L488.6,399.2 L487.3,398.8 L486.3,397.9 L485.9,396.6 L486.2,395.3Z" fill="#fff" stroke="#111" stroke-width="1.7" /><path d="M491.8,379.6 L492.6,378.9 L493.6,378.7 L494.7,379.0 L495.4,379.8 L495.6,380.9 L495.3,381.9 L483.2,401.5 L482.2,402.4 L480.9,402.6 L479.6,402.2 L478.7,401.2 L478.4,399.9 L478.8,398.6Z" fill="#fff" stroke="#111" stroke-width="1.7" /><path d="M486.0,382.0 L486.9,381.3 L487.9,381.2 L488.9,381.6 L489.6,382.4 L489.8,383.5 L489.4,384.5 L475.8,403.7 L474.7,404.6 L473.4,404.8 L472.1,404.3 L471.3,403.2 L471.1,401.9 L471.6,400.6Z" fill="#fff" stroke="#111" stroke-width="1.7" /><path d="M474.9,386.1 L476.3,385.2 L478.0,385.0 L479.6,385.7 L480.5,387.1 L480.7,388.8 L479.9,390.4 L470.7,402.2 L469.1,403.4 L467.0,403.6 L465.2,402.7 L464.1,401.1 L463.9,399.0 L464.8,397.2Z" fill="#fff" stroke="#111" stroke-width="1.8" /><path d="M467.7,384.9 L469.2,384.0 L470.9,384.0 L472.4,384.8 L473.2,386.3 L473.3,388.0 L472.4,389.5 L462.4,400.8 L460.6,401.8 L458.6,401.9 L456.8,400.9 L455.8,399.2 L455.8,397.2 L456.7,395.4Z" fill="#fff" stroke="#111" stroke-width="1.8" /><path d="M460.6,379.7 L462.2,379.1 L463.9,379.3 L465.2,380.3 L465.9,381.9 L465.6,383.6 L464.6,385.0 L452.9,394.7 L451.0,395.4 L449.0,395.2 L447.4,394.0 L446.7,392.1 L446.9,390.1 L448.2,388.5Z" fill="#fff" stroke="#111" stroke-width="1.8" /><path d="M455.9,370.9 L457.6,370.5 L459.2,371.1 L460.3,372.4 L460.6,374.1 L460.1,375.7 L458.8,376.8 L446.6,383.4 L444.6,383.8 L442.7,383.2 L441.4,381.6 L441.0,379.7 L441.6,377.7 L443.2,376.4Z" fill="#fff" stroke="#111" stroke-width="1.8" /><path d="M454.2,360.6 L455.9,360.5 L457.4,361.4 L458.2,362.8 L458.3,364.5 L457.5,366.0 L456.0,366.9 L444.5,370.9 L442.5,370.9 L440.7,369.9 L439.7,368.2 L439.6,366.2 L440.6,364.4 L442.3,363.4Z" fill="#fff" stroke="#111" stroke-width="1.8" /><path d="M454.9,348.9 L456.6,349.2 L457.9,350.3 L458.5,351.9 L458.3,353.6 L457.2,354.9 L455.6,355.5 L445.3,357.2 L443.3,356.9 L441.7,355.7 L441.0,353.8 L441.3,351.8 L442.5,350.2 L444.4,349.5Z" fill="#fff" stroke="#111" stroke-width="1.8" /><path d="M457.4,339.2 L459.0,339.8 L460.1,341.2 L460.3,342.9 L459.7,344.4 L458.3,345.5 L456.6,345.7 L447.6,345.3 L445.7,344.5 L444.5,343.0 L444.2,341.0 L444.9,339.1 L446.5,337.8 L448.5,337.5Z" fill="#fff" stroke="#111" stroke-width="1.8" /><path d="M453.0,231.4 Q426.7,255.8 404.7,284.5" fill="none" stroke="#111" stroke-width="8.4" /><path d="M453.0,231.4 Q426.7,255.8 404.7,284.5" fill="none" stroke="#fff" stroke-width="3.0" /><path d="M463.5,240.0 Q437.9,263.4 416.7,291.3" fill="none" stroke="#111" stroke-width="8.4" /><path d="M463.5,240.0 Q437.9,263.4 416.7,291.3" fill="none" stroke="#fff" stroke-width="3.0" /><path d="M473.5,249.5 Q448.9,270.7 428.8,296.3" fill="none" stroke="#111" stroke-width="8.4" /><path d="M473.5,249.5 Q448.9,270.7 428.8,296.3" fill="none" stroke="#fff" stroke-width="3.0" /><path d="M481.5,257.0 Q459.1,275.8 441.0,299.0" fill="none" stroke="#111" stroke-width="8.4" /><path d="M481.5,257.0 Q459.1,275.8 441.0,299.0" fill="none" stroke="#fff" stroke-width="3.0" /><path d="M399.0,289.0 C399.5,287.2 400.0,282.3 402.0,278.0 C404.0,273.7 407.2,268.0 411.0,263.0 C414.8,258.0 420.2,252.5 425.0,248.0 C429.8,243.5 435.5,239.4 440.0,236.0 C444.5,232.6 450.0,228.9 452.0,227.5" fill="none" stroke="#111" stroke-width="2.0" /><path d="M457.5,221.0 C457.8,218.9 457.9,219.1 459.7,218.3 C461.5,217.6 465.7,216.3 468.1,216.5 C470.5,216.7 473.1,218.1 474.1,219.5 C475.1,220.9 474.2,223.4 474.0,225.0 C473.8,226.6 473.7,227.4 472.9,229.1 C472.1,230.8 470.9,234.3 469.3,235.2 C467.7,236.1 465.2,235.2 463.3,234.5 C461.4,233.8 459.0,233.2 458.0,231.0 C457.0,228.8 457.2,223.1 457.5,221.0Z" fill="#fff" stroke="#111" stroke-width="1.8" /><ellipse cx="464" cy="224.5" rx="3.4" ry="4.4" transform="rotate(35 464 224.5)" fill="#111"/><path d="M474.1,219.5 L483.8,231.5 L489.8,241.2 L492.2,246.0 L486.2,247.2 L470.5,237.6" fill="none" stroke="#111" stroke-width="1.8" /><path d="M479.0,220.7 L487.0,232.0 L492.2,241.2" fill="none" stroke="#111" stroke-width="1.2" /><path d="M477.7,217.5 C478.5,216.1 482.9,212.7 486.0,212.0 C489.1,211.3 493.0,212.6 496.0,213.5 C499.0,214.4 501.7,216.0 504.0,217.5 C506.3,219.0 508.0,220.3 510.0,222.5 C512.0,224.7 514.0,227.8 516.0,230.5 C518.0,233.2 520.0,235.9 522.0,238.5 C524.0,241.1 526.2,243.8 528.0,246.0 C529.8,248.2 533.3,251.3 533.0,252.0 C532.7,252.7 528.8,249.9 526.0,250.0 C523.2,250.1 518.9,252.6 516.3,252.5 C513.7,252.4 512.1,251.1 510.3,249.6 C508.5,248.1 507.1,245.8 505.5,243.6 C503.9,241.4 502.5,238.8 500.7,236.4 C498.9,234.0 496.6,231.1 494.6,229.1 C492.6,227.1 490.8,225.7 488.6,224.3 C486.4,222.9 483.2,221.8 481.4,220.7 C479.6,219.6 476.9,218.9 477.7,217.5Z" fill="#111" stroke="#111" stroke-width="1.0" /><path d="M487.0,219.5 C488.7,219.4 493.7,218.4 497.0,219.0 C500.3,219.6 505.1,222.2 506.7,222.8" fill="none" stroke="#fff" stroke-width="2.2" /><path d="M491.0,226.5 C492.7,226.9 497.8,227.7 501.0,229.0 C504.2,230.3 508.8,233.3 510.3,234.2" fill="none" stroke="#fff" stroke-width="2.2" /><path d="M497.0,233.0 C498.5,233.5 503.4,234.8 506.0,236.0 C508.6,237.2 511.6,239.8 512.7,240.5" fill="none" stroke="#fff" stroke-width="2.2" /><path d="M503.0,240.0 C504.2,240.6 508.0,242.4 510.0,243.5 C512.0,244.6 514.2,246.0 515.0,246.5" fill="none" stroke="#fff" stroke-width="2.2" /><ellipse cx="392.4" cy="304.8" rx="4.4" ry="5.8" transform="rotate(45 392.4 304.8)" fill="#111"/><path d="M398.4,284.1 L402.1,296.0 L402.1,300.0 L404.0,309.0 L397.6,313.6 L385.0,316.3" fill="none" stroke="#111" stroke-width="2.2" /><path d="M403.0,303.6 L439.3,319.0" fill="none" stroke="#111" stroke-width="2.0" /><path d="M406.7,311.8 L428.4,320.8" fill="none" stroke="#111" stroke-width="1.6" /><path d="M383.1,317.2 L403.0,318.1" fill="none" stroke="#111" stroke-width="3.2" /><path d="M403.0,318.1 L419.3,322.6" fill="none" stroke="#111" stroke-width="2.0" /><path d="M407.2,292.4 L436.2,314.1 L450.0,324.0" fill="none" stroke="#111" stroke-width="1.3" /><path d="M403.6,294.8 L433.8,316.5 L447.0,327.0" fill="none" stroke="#111" stroke-width="1.3" /><path d="M433.8,314.5 L445.0,320.0 L452.5,326.5 L448.0,327.5 L436.0,319.5Z" fill="#111" stroke="#111" stroke-width="1.0" /><path d="M382.2,323.6 L393.1,348.0" fill="none" stroke="#111" stroke-width="2.1" /><path d="M385.8,322.6 L395.8,346.2" fill="none" stroke="#111" stroke-width="1.5" /><path d="M375.3,349.5 C375.8,350.4 377.1,353.3 378.0,355.0 C378.9,356.7 379.7,358.3 381.0,359.5 C382.3,360.7 385.2,361.6 386.0,362.0" fill="none" stroke="#111" stroke-width="2.0" /><path d="M369.7,360.3 L377.7,365.2" fill="none" stroke="#111" stroke-width="1.6" /><path d="M443.3,320.3 C442.1,323.6 438.1,333.4 436.0,340.0 C433.9,346.6 431.9,354.2 431.0,360.0 C430.1,365.8 430.3,370.3 430.4,375.0 C430.5,379.7 430.8,384.8 431.5,388.0 C432.2,391.2 432.8,391.5 434.4,394.3 C436.0,397.1 438.5,401.9 440.9,404.7 C443.3,407.5 447.5,410.2 448.8,411.3" fill="none" stroke="#111" stroke-width="1.6" /><path d="M446.0,321.0 C444.8,324.2 440.6,333.5 438.5,340.0 C436.4,346.5 434.4,354.2 433.5,360.0 C432.6,365.8 432.7,370.3 432.8,375.0 C432.9,379.7 433.3,384.8 434.0,388.0 C434.7,391.2 435.5,391.4 437.0,394.0 C438.5,396.6 440.7,400.9 443.0,403.5 C445.3,406.1 449.7,408.5 451.0,409.5" fill="none" stroke="#111" stroke-width="1.0" /><path d="M399.0,381.0 C399.8,379.4 402.2,378.8 404.0,378.5 C405.8,378.2 408.5,378.2 410.0,379.0 C411.5,379.8 413.0,381.3 413.0,383.0 C413.0,384.7 411.5,387.8 410.0,389.0 C408.5,390.2 405.8,390.7 404.0,390.5 C402.2,390.3 400.3,389.6 399.5,388.0 C398.7,386.4 398.2,382.6 399.0,381.0Z" fill="#111" stroke="#111" stroke-width="1.0" /><path d="M412.0,379.0 C413.0,377.4 416.2,378.1 418.0,378.5 C419.8,378.9 421.9,380.1 423.0,381.5 C424.1,382.9 424.8,385.3 424.5,387.0 C424.2,388.7 422.6,390.7 421.0,391.5 C419.4,392.3 416.5,392.6 415.0,392.0 C413.5,391.4 412.5,390.2 412.0,388.0 C411.5,385.8 411.0,380.6 412.0,379.0Z" fill="#111" stroke="#111" stroke-width="1.0" /><ellipse cx="405.6" cy="384.5" rx="2.3" ry="3.1" fill="#fff" stroke="#111" stroke-width="1.0"/><ellipse cx="418" cy="385.2" rx="3.0" ry="3.9" fill="#fff" stroke="#111" stroke-width="1.2"/><path d="M424.5,386.0 L430.0,388.0" fill="none" stroke="#111" stroke-width="1.4" /><rect x="374.3" y="341.8" width="73.0" height="18.5" rx="2.5" transform="rotate(-43.0 410.8 351.0)" fill="#fff" stroke="#111" stroke-width="2.8"/><rect x="379.2" y="346.8" width="64.0" height="10.0" rx="1.5" transform="rotate(-43.0 411.2 351.8)" fill="#fff" stroke="#111" stroke-width="1.8"/><path d="M395.0,381.5 L424.0,354.5 L443.0,334.5" fill="none" stroke="#111" stroke-width="3.0" /><path d="M401.5,354.0 C401.8,352.1 404.2,350.0 406.0,349.0 C407.8,348.0 410.2,347.7 412.0,348.0 C413.8,348.3 416.3,349.5 417.0,351.0 C417.7,352.5 417.2,355.3 416.0,357.0 C414.8,358.7 412.0,360.4 410.0,361.0 C408.0,361.6 405.4,361.7 404.0,360.5 C402.6,359.3 401.2,355.9 401.5,354.0Z" fill="#111" stroke="#111" stroke-width="1.0" /><path d="M413.0,347.5 C413.9,346.4 416.5,342.8 418.5,341.0 C420.5,339.2 422.9,337.5 425.0,336.5 C427.1,335.5 429.8,334.7 431.0,335.0 C432.2,335.3 432.7,337.0 432.0,338.5 C431.3,340.0 429.2,342.1 427.0,344.0 C424.8,345.9 420.3,349.0 419.0,350.0" fill="none" stroke="#111" stroke-width="2.0" /><ellipse cx="411.5" cy="353" rx="2.8" ry="1.9" transform="rotate(-43 411.5 353)" fill="#fff"/><path d="M610.4,297.9 L596.6,289.6 A2.7,2.7 0 0 1 599.4,285.0 L613.2,293.3 Z" fill="#fff" stroke="#1a1a1a" stroke-width="1.3" /><path d="M600.6,291.6 L601.5,286.7" fill="none" stroke="#333" stroke-width="1.3" /><path d="M602.8,292.9 L603.6,288.0" fill="none" stroke="#333" stroke-width="1.3" /><path d="M604.9,294.1 L605.7,289.3" fill="none" stroke="#333" stroke-width="1.3" /><path d="M607.0,295.4 L607.9,290.6" fill="none" stroke="#333" stroke-width="1.3" /><path d="M609.2,296.7 L610.0,291.9" fill="none" stroke="#333" stroke-width="1.3" /><ellipse cx="614.3" cy="297.2" rx="4.2" ry="8.3" transform="rotate(31.2 614.3 297.2)" fill="#fff" stroke="#1a1a1a" stroke-width="1.6"/><path d="M619.0,303.9 L613.4,304.5 L611.3,299.3 L614.8,293.5 L620.4,292.9 L622.5,298.1Z" fill="#fff" stroke="#1a1a1a" stroke-width="1.4" /><ellipse cx="618.6" cy="299.8" rx="2.5" ry="4.2" transform="rotate(31.2 618.6 299.8)" fill="#fff" stroke="#333" stroke-width="1.1"/><path d="M550.9,387.9 L537.3,380.1 A2.7,2.7 0 0 1 539.9,375.5 L553.6,383.2 Z" fill="#fff" stroke="#1a1a1a" stroke-width="1.3" /><path d="M541.2,381.9 L542.0,377.1" fill="none" stroke="#333" stroke-width="1.3" /><path d="M543.4,383.1 L544.1,378.3" fill="none" stroke="#333" stroke-width="1.3" /><path d="M545.5,384.3 L546.2,379.5" fill="none" stroke="#333" stroke-width="1.3" /><path d="M547.6,385.5 L548.3,380.7" fill="none" stroke="#333" stroke-width="1.3" /><path d="M549.7,386.7 L550.4,381.9" fill="none" stroke="#333" stroke-width="1.3" /><ellipse cx="554.8" cy="387.0" rx="4.2" ry="8.3" transform="rotate(29.6 554.8 387.0)" fill="#fff" stroke="#1a1a1a" stroke-width="1.6"/><path d="M559.6,393.7 L554.1,394.4 L551.9,389.2 L555.2,383.3 L560.8,382.6 L563.0,387.7Z" fill="#fff" stroke="#1a1a1a" stroke-width="1.4" /><ellipse cx="559.2" cy="389.5" rx="2.5" ry="4.2" transform="rotate(29.6 559.2 389.5)" fill="#fff" stroke="#333" stroke-width="1.1"/><path d="M534.9,445.5 L520.4,437.0 A2.7,2.7 0 0 1 523.2,432.4 L537.6,440.9 Z" fill="#fff" stroke="#1a1a1a" stroke-width="1.3" /><path d="M524.6,439.0 L525.4,434.1" fill="none" stroke="#333" stroke-width="1.3" /><path d="M526.8,440.3 L527.6,435.4" fill="none" stroke="#333" stroke-width="1.3" /><path d="M529.1,441.6 L529.9,436.8" fill="none" stroke="#333" stroke-width="1.3" /><path d="M531.3,442.9 L532.1,438.1" fill="none" stroke="#333" stroke-width="1.3" /><path d="M533.6,444.3 L534.3,439.4" fill="none" stroke="#333" stroke-width="1.3" /><ellipse cx="538.8" cy="444.7" rx="4.2" ry="8.3" transform="rotate(30.4 538.8 444.7)" fill="#fff" stroke="#1a1a1a" stroke-width="1.6"/><path d="M543.5,451.4 L538.0,452.1 L535.8,446.9 L539.3,441.0 L544.9,440.3 L547.0,445.5Z" fill="#fff" stroke="#1a1a1a" stroke-width="1.4" /><ellipse cx="543.1" cy="447.2" rx="2.5" ry="4.2" transform="rotate(30.4 543.1 447.2)" fill="#fff" stroke="#333" stroke-width="1.1"/><path d="M539.7,258.0 L594.0,284.5" fill="none" stroke="#333" stroke-width="0.9" stroke-dasharray="7 2 1.5 2"/><path d="M450.0,330.5 L536.5,374.5" fill="none" stroke="#333" stroke-width="0.9" stroke-dasharray="14 2.5 2 2.5"/><path d="M474.3,411.4 L518.5,432.8" fill="none" stroke="#333" stroke-width="0.9" stroke-dasharray="7 2 1.5 2"/><path d="M37.0,140.7 L19.3,130.3 A2.3,2.3 0 0 1 21.7,126.3 L39.4,136.8 Z" fill="#aaa" stroke="#1a1a1a" stroke-width="1.3" /><path d="M24.2,132.7 L24.6,128.5" fill="none" stroke="#333" stroke-width="1.3" /><path d="M26.9,134.4 L27.4,130.1" fill="none" stroke="#333" stroke-width="1.3" /><path d="M29.7,136.0 L30.1,131.7" fill="none" stroke="#333" stroke-width="1.3" /><path d="M32.4,137.6 L32.9,133.3" fill="none" stroke="#333" stroke-width="1.3" /><path d="M35.2,139.2 L35.6,134.9" fill="none" stroke="#333" stroke-width="1.3" /><ellipse cx="39.8" cy="139.7" rx="3.1" ry="6.3" transform="rotate(30.5 39.8 139.7)" fill="#fff" stroke="#1a1a1a" stroke-width="1.6"/><path d="M44.0,145.2 L39.8,145.7 L38.2,141.7 L40.8,137.3 L45.0,136.8 L46.6,140.7Z" fill="#fff" stroke="#1a1a1a" stroke-width="1.4" /><ellipse cx="44.1" cy="142.2" rx="1.9" ry="3.1" transform="rotate(30.5 44.1 142.2)" fill="#fff" stroke="#333" stroke-width="1.1"/><path d="M449.0,69.5 C449.5,67.9 451.2,67.1 453.0,66.5 C454.8,65.9 457.7,65.6 460.0,66.0 C462.3,66.4 465.3,67.7 467.0,69.0 C468.7,70.3 469.8,72.2 470.0,74.0 C470.2,75.8 469.3,78.6 468.0,80.0 C466.7,81.4 464.2,82.3 462.0,82.5 C459.8,82.7 457.0,82.1 455.0,81.0 C453.0,79.9 451.0,77.9 450.0,76.0 C449.0,74.1 448.5,71.1 449.0,69.5Z" fill="#fff" stroke="#1a1a1a" stroke-width="1.5" /><path d="M454.0,72.0 C454.5,71.1 456.7,70.4 458.0,70.5 C459.3,70.6 461.2,71.5 462.0,72.5 C462.8,73.5 463.5,75.6 463.0,76.5 C462.5,77.4 460.3,78.1 459.0,78.0 C457.7,77.9 455.8,77.0 455.0,76.0 C454.2,75.0 453.5,72.9 454.0,72.0Z" fill="none" stroke="#1a1a1a" stroke-width="1.2" /><ellipse cx="457.5" cy="74.5" rx="1.6" ry="1.2" fill="#333"/><path d="M462.0,66.0 C462.3,63.5 465.8,64.0 468.0,63.8 C470.2,63.5 472.8,63.7 475.0,64.5 C477.2,65.3 479.5,66.8 481.0,68.5 C482.5,70.2 483.7,72.8 484.0,75.0 C484.3,77.2 484.0,80.2 483.0,82.0 C482.0,83.8 480.0,85.6 478.0,86.0 C476.0,86.4 473.0,85.7 471.0,84.5 C469.0,83.3 467.5,82.1 466.0,79.0 C464.5,75.9 461.7,68.5 462.0,66.0Z" fill="#fff" stroke="#1a1a1a" stroke-width="1.5" /><path d="M465.0,66.5 C466.2,66.8 469.8,66.9 472.0,68.0 C474.2,69.1 476.7,71.0 478.0,73.0 C479.3,75.0 480.0,78.0 480.0,80.0 C480.0,82.0 478.3,84.2 478.0,85.0" fill="none" stroke="#333" stroke-width="1.1" /><path d="M468.0,65.0 C469.2,65.3 472.8,65.8 475.0,67.0 C477.2,68.2 479.7,70.2 481.0,72.0 C482.3,73.8 482.7,77.0 483.0,78.0" fill="none" stroke="#444" stroke-width="0.9" /><path d="M463.5,70.0 C464.2,70.3 466.8,70.8 468.0,72.0 C469.2,73.2 470.5,75.2 471.0,77.0 C471.5,78.8 471.0,82.0 471.0,83.0" fill="none" stroke="#333" stroke-width="1.0" /><path d="M476.5,83.5 L484.5,81.5 L486.5,88.5 L479.5,91.5 L477.0,88.0Z" fill="#fff" stroke="#1a1a1a" stroke-width="1.4" /><path d="M482.5,70.0 C483.8,69.8 487.1,69.4 490.0,69.0 C492.9,68.6 496.8,68.2 500.0,67.8 C503.2,67.4 506.5,67.0 509.0,66.6 C511.5,66.2 513.3,66.0 515.0,65.2 C516.7,64.4 517.8,63.0 519.0,61.5 C520.2,60.0 521.3,58.2 522.5,56.5 C523.7,54.8 524.8,52.9 526.0,51.5 C527.2,50.1 528.5,49.1 530.0,48.2 C531.5,47.3 534.2,46.5 535.0,46.2" fill="none" stroke="#1a1a1a" stroke-width="3.0" /><path d="M482.5,70.0 C483.8,69.8 487.1,69.4 490.0,69.0 C492.9,68.6 496.8,68.2 500.0,67.8 C503.2,67.4 506.5,67.0 509.0,66.6 C511.5,66.2 513.3,66.0 515.0,65.2 C516.7,64.4 517.8,63.0 519.0,61.5 C520.2,60.0 521.3,58.2 522.5,56.5 C523.7,54.8 524.8,52.9 526.0,51.5 C527.2,50.1 528.5,49.1 530.0,48.2 C531.5,47.3 534.2,46.5 535.0,46.2" fill="none" stroke="#bbb" stroke-width="0.9" /><path d="M483.0,73.0 C484.2,72.9 487.2,72.8 490.0,72.5 C492.8,72.2 496.8,71.8 500.0,71.5 C503.2,71.2 506.5,70.9 509.0,70.5 C511.5,70.1 513.3,69.7 515.0,69.0 C516.7,68.3 517.5,67.6 519.0,66.5 C520.5,65.4 522.2,63.8 524.0,62.5 C525.8,61.2 528.2,59.9 530.0,59.0 C531.8,58.1 533.4,57.7 535.0,57.2 C536.6,56.7 538.8,56.4 539.5,56.2" fill="none" stroke="#1a1a1a" stroke-width="3.0" /><path d="M483.0,73.0 C484.2,72.9 487.2,72.8 490.0,72.5 C492.8,72.2 496.8,71.8 500.0,71.5 C503.2,71.2 506.5,70.9 509.0,70.5 C511.5,70.1 513.3,69.7 515.0,69.0 C516.7,68.3 517.5,67.6 519.0,66.5 C520.5,65.4 522.2,63.8 524.0,62.5 C525.8,61.2 528.2,59.9 530.0,59.0 C531.8,58.1 533.4,57.7 535.0,57.2 C536.6,56.7 538.8,56.4 539.5,56.2" fill="none" stroke="#bbb" stroke-width="0.9" /><ellipse cx="489.0" cy="69.5" rx="1.8" ry="1.5" fill="#1a1a1a"/><ellipse cx="496.0" cy="68.4" rx="1.8" ry="1.5" fill="#1a1a1a"/><ellipse cx="504.0" cy="67.2" rx="1.8" ry="1.5" fill="#1a1a1a"/><ellipse cx="490.0" cy="72.6" rx="1.8" ry="1.5" fill="#1a1a1a"/><ellipse cx="497.0" cy="72.0" rx="1.8" ry="1.5" fill="#1a1a1a"/><ellipse cx="505.0" cy="71.2" rx="1.8" ry="1.5" fill="#1a1a1a"/><rect x="534" y="43.3" width="11.5" height="4.6" rx="2.3" transform="rotate(-22 539.7 45.6)" fill="#fff" stroke="#1a1a1a" stroke-width="1.4"/><rect x="539.5" y="53.3" width="10.5" height="4.6" rx="2.3" transform="rotate(-28 544.7 55.6)" fill="#fff" stroke="#1a1a1a" stroke-width="1.4"/><path d="M263.2,363.6 L263.2,419.8" fill="none" stroke="#333" stroke-width="1.1" /><path d="M467.0,181.4 L467.0,209.5" fill="none" stroke="#333" stroke-width="1.1" /><path d="M615.7,266.2 L615.7,289.5" fill="none" stroke="#333" stroke-width="1.1" /><path d="M565.5,349.7 L565.5,384.3" fill="none" stroke="#333" stroke-width="1.1" /><path d="M540.2,416.4 L540.2,437.3" fill="none" stroke="#333" stroke-width="1.1" /><path d="M316.3,270.8 L316.3,296.2" fill="none" stroke="#333" stroke-width="1.1" /><path d="M34.0,144.0 L34.0,164.7" fill="none" stroke="#333" stroke-width="1.1" /><path d="M524.6,71.0 L563.0,71.0" fill="none" stroke="#333" stroke-width="1.1" /><g fill="#111" stroke="#111" stroke-width="0.3"><path d="M264,424.8 L264,443.2 L261.2,443.2 L261.2,429.3 C260.2,430.3 258.6,431.2 256.8,431.9 L256.8,429.2 C258.4,428.5 259.9,427.4 261,426.2 C261.5,425.7 261.9,425.2 262.2,424.8 Z"/><path d="M462.28 179.00V177.39Q462.93 175.90 463.86 174.77Q464.79 173.63 465.82 172.71Q466.85 171.79 467.86 171.00Q468.87 170.21 469.68 169.43Q470.49 168.64 470.99 167.78Q471.49 166.91 471.49 165.82Q471.49 164.35 470.63 163.54Q469.77 162.72 468.23 162.72Q466.77 162.72 465.83 163.52Q464.88 164.31 464.72 165.75L462.38 165.53Q462.63 163.38 464.20 162.12Q465.77 160.85 468.23 160.85Q470.94 160.85 472.39 162.12Q473.84 163.40 473.84 165.75Q473.84 166.79 473.37 167.82Q472.89 168.84 471.95 169.87Q471.01 170.90 468.36 173.06Q466.90 174.25 466.04 175.21Q465.17 176.17 464.79 177.06H474.12V179.00Z"/><path d="M622.36 259.66Q622.36 262.14 620.79 263.50Q619.22 264.85 616.30 264.85Q613.58 264.85 611.96 263.63Q610.34 262.40 610.04 260.00L612.40 259.79Q612.85 262.96 616.30 262.96Q618.02 262.96 619.01 262.11Q619.99 261.26 619.99 259.59Q619.99 258.13 618.87 257.31Q617.74 256.49 615.62 256.49H614.33V254.51H615.57Q617.45 254.51 618.49 253.69Q619.52 252.87 619.52 251.42Q619.52 249.99 618.68 249.16Q617.83 248.32 616.17 248.32Q614.66 248.32 613.72 249.10Q612.79 249.87 612.64 251.28L610.34 251.10Q610.60 248.91 612.16 247.68Q613.73 246.45 616.19 246.45Q618.89 246.45 620.38 247.70Q621.87 248.95 621.87 251.18Q621.87 252.89 620.91 253.97Q619.95 255.04 618.12 255.42V255.47Q620.13 255.69 621.25 256.82Q622.36 257.95 622.36 259.66Z"/><path d="M572.66 340.76Q572.66 343.24 571.09 344.60Q569.52 345.95 566.60 345.95Q563.88 345.95 562.26 344.73Q560.64 343.50 560.34 341.10L562.70 340.89Q563.15 344.06 566.60 344.06Q568.32 344.06 569.31 343.21Q570.29 342.36 570.29 340.69Q570.29 339.23 569.17 338.41Q568.04 337.59 565.92 337.59H564.63V335.61H565.87Q567.75 335.61 568.79 334.79Q569.82 333.97 569.82 332.52Q569.82 331.09 568.98 330.26Q568.13 329.42 566.47 329.42Q564.96 329.42 564.02 330.20Q563.09 330.97 562.94 332.38L560.64 332.20Q560.90 330.01 562.46 328.78Q564.03 327.55 566.49 327.55Q569.19 327.55 570.68 328.80Q572.17 330.05 572.17 332.28Q572.17 333.99 571.21 335.07Q570.25 336.14 568.42 336.52V336.57Q570.43 336.79 571.55 337.92Q572.66 339.05 572.66 340.76Z"/><path d="M547.16 407.36Q547.16 409.84 545.59 411.20Q544.02 412.55 541.10 412.55Q538.38 412.55 536.76 411.33Q535.14 410.10 534.84 407.70L537.20 407.49Q537.65 410.66 541.10 410.66Q542.82 410.66 543.81 409.81Q544.79 408.96 544.79 407.29Q544.79 405.83 543.67 405.01Q542.54 404.19 540.42 404.19H539.13V402.21H540.37Q542.25 402.21 543.29 401.39Q544.32 400.57 544.32 399.12Q544.32 397.69 543.48 396.86Q542.63 396.02 540.97 396.02Q539.46 396.02 538.52 396.80Q537.59 397.57 537.44 398.98L535.14 398.80Q535.40 396.61 536.96 395.38Q538.53 394.15 540.99 394.15Q543.69 394.15 545.18 395.40Q546.67 396.65 546.67 398.88Q546.67 400.59 545.71 401.67Q544.75 402.74 542.92 403.12V403.17Q544.93 403.39 546.05 404.52Q547.16 405.65 547.16 407.36Z"/><path d="M318.04 316.25V320.30H315.88V316.25H307.45V314.47L315.64 302.41H318.04V314.45H320.55V316.25ZM315.88 304.99Q315.85 305.07 315.52 305.66Q315.19 306.26 315.03 306.50L310.45 313.25L309.76 314.19L309.56 314.45H315.88Z"/><path d="M41.86 181.97Q41.86 184.80 40.18 186.43Q38.50 188.05 35.52 188.05Q33.01 188.05 31.48 186.96Q29.94 185.87 29.54 183.80L31.85 183.53Q32.57 186.19 35.57 186.19Q37.41 186.19 38.45 185.08Q39.49 183.97 39.49 182.02Q39.49 180.34 38.44 179.29Q37.39 178.25 35.62 178.25Q34.69 178.25 33.89 178.55Q33.09 178.84 32.29 179.54H30.06L30.65 169.91H40.82V171.85H32.74L32.39 177.53Q33.88 176.39 36.09 176.39Q38.73 176.39 40.30 177.94Q41.86 179.48 41.86 181.97Z"/><path d="M575.80 67.95Q575.80 70.78 574.26 72.42Q572.73 74.05 570.02 74.05Q567.00 74.05 565.40 71.81Q563.80 69.56 563.80 65.27Q563.80 60.62 565.46 58.13Q567.13 55.65 570.20 55.65Q574.25 55.65 575.30 59.29L573.12 59.68Q572.45 57.50 570.17 57.50Q568.22 57.50 567.15 59.32Q566.07 61.14 566.07 64.60Q566.70 63.44 567.83 62.84Q568.96 62.23 570.42 62.23Q572.89 62.23 574.34 63.78Q575.80 65.33 575.80 67.95ZM573.48 68.05Q573.48 66.11 572.52 65.05Q571.57 64.00 569.87 64.00Q568.27 64.00 567.29 64.93Q566.30 65.87 566.30 67.50Q566.30 69.57 567.32 70.89Q568.35 72.21 569.95 72.21Q571.60 72.21 572.54 71.10Q573.48 69.99 573.48 68.05Z"/></g></svg>
</body></html>
